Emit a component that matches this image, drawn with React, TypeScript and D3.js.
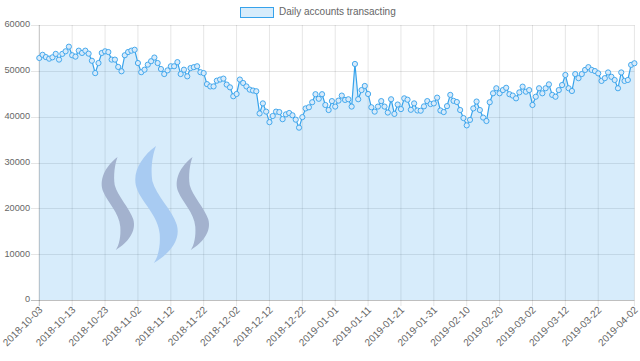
import React from "react";
import * as d3 from "d3";

const seriesName = "Daily accounts transacting";
const startDate = "2018-10-03";
const values: number[] = [
  52800, 53500, 53000, 52650, 52950, 53700, 52450, 53700, 54260, 55270,
  53400, 53100, 54400, 53900, 54400, 53750, 52200, 49500, 51700, 53900,
  54260, 54100, 52450, 52450, 50850, 49900, 53400, 54100, 54400, 54600,
  51700, 49700, 50250, 51350, 52100, 52900, 51700, 50400, 49300, 50100,
  51000, 51000, 51900, 49300, 50250, 48800, 50600, 50800, 51000, 49700,
  49500, 47100, 46600, 46600, 47850, 48100, 48300, 47000, 46400, 44450,
  44950, 48100, 47350, 46600, 45900, 45700, 45550, 40700, 42900, 41100,
  38800, 40150, 41100, 41000, 39450, 40500, 40800, 40300, 39350, 37600,
  39900, 41800, 42050, 43150, 44900, 43900, 44900, 42550, 41450, 43400,
  42200, 43500, 44600, 43650, 43800, 42200, 51500, 43800, 45800, 46700,
  44950, 42050, 41100, 42200, 43400, 42200, 40900, 43800, 40600, 42650,
  41650, 44000, 43700, 41500, 42900, 41350, 41300, 42250, 43400, 42750,
  42900, 44150, 41350, 41000, 42300, 44750, 43450, 43200, 41450, 39700,
  38100, 39300, 41800, 43300, 41450, 39800, 39050, 43150, 45100, 46200,
  45100, 45800, 46300, 44900, 44600, 44000, 45300, 46550, 45450, 45800,
  42550, 44350, 46200, 45100, 46200, 47050, 44750, 44350, 45800, 46900,
  49100, 46200, 45600, 49300, 48400, 49300, 50200, 50800, 50200, 49950,
  49450, 47800, 48400, 49650, 48700, 48000, 46200, 49650, 47800, 48000,
  51300, 51650,
];
const yTicks: number[] = [0, 10000, 20000, 30000, 40000, 50000, 60000];
const xTickIndices: number[] = [0, 10, 20, 30, 40, 50, 60, 70, 80, 90, 100, 110, 120, 130, 140, 150, 160, 170, 181];

const W = 640;
const H = 361;
const left = 39.3;
const right = 634.4;
const top = 25;
const bottom = 300;

const fmt = d3.utcFormat("%Y-%m-%d");
const start = d3.utcParse("%Y-%m-%d")(startDate) as Date;
const labelFor = (i: number) => fmt(d3.utcDay.offset(start, i));

const shapePath =
  "M0.5,0 C0.15,0.1 -0.05,0.25 0.1,0.38 C0.2,0.48 0.55,0.6 0.58,0.75 C0.6,0.85 0.55,0.95 0.45,1 C0.8,0.92 1.05,0.8 0.95,0.67 C0.85,0.55 0.5,0.42 0.42,0.3 C0.38,0.2 0.42,0.08 0.5,0 Z";

export default function App() {
  const x = d3.scaleLinear().domain([0, values.length - 1]).range([left, right]);
  const y = d3.scaleLinear().domain([0, 60000]).range([bottom, top]);
  const line = d3.line<number>().x((_, i) => x(i)).y((d) => y(d));
  const area = d3.area<number>().x((_, i) => x(i)).y0(bottom).y1((d) => y(d));
  const font = "'Liberation Sans', Arial, sans-serif";
  const logos = [
    { x: 100, y: 157, w: 35, h: 93, c: "#a3b2ce" },
    { x: 133, y: 146, w: 46, h: 117, c: "#a8cbf2" },
    { x: 175, y: 157, w: 35, h: 93, c: "#a3b2ce" },
  ];
  return (
    <svg width={W} height={H} style={{ position: "absolute", left: 0, top: 0, background: "#fff" }} fontFamily={font}>
      {/* legend */}
      <rect x={240.5} y={7.5} width={33} height={10} fill="rgba(54,162,235,0.2)" stroke="rgb(54,162,235)" strokeWidth={1} />
      <text x={279} y={12.5} fontSize={10} fill="#666" dominantBaseline="middle">{seriesName}</text>
      {/* horizontal grid */}
      {yTicks.map((t) => (
        <g key={t}>
          <line x1={31} x2={right} y1={Math.round(y(t)) + 0.5} y2={Math.round(y(t)) + 0.5} stroke={t === 0 ? "rgba(0,0,0,0.25)" : "rgba(0,0,0,0.1)"} />
          <text x={30} y={y(t)} fontSize={9.2} fill="#666" textAnchor="end" dominantBaseline="middle">{t}</text>
        </g>
      ))}
      {/* vertical grid */}
      {xTickIndices.map((i) => (
        <g key={i}>
          <line x1={x(i)} x2={x(i)} y1={top} y2={bottom + 6} stroke={i === 0 ? "rgba(0,0,0,0.25)" : "rgba(0,0,0,0.1)"} />
          <text transform={`translate(${x(i) + 1.5},${bottom + 8}) rotate(-45)`} fontSize={10} fill="#666" textAnchor="end" dominantBaseline="central">{labelFor(i)}</text>
        </g>
      ))}
      <path d={area(values) || ""} fill="rgba(54,162,235,0.2)" />
      {logos.map((l, k) => (
        <path key={k} d={shapePath} transform={`translate(${l.x},${l.y}) scale(${l.w},${l.h})`} fill={l.c} />
      ))}
      <path d={line(values) || ""} fill="none" stroke="rgb(54,162,235)" strokeWidth={1.2} />
      {values.map((v, i) => (
        <circle key={i} cx={x(i)} cy={y(v)} r={2.6} fill="rgba(215,234,250,1)" stroke="rgb(54,162,235)" strokeWidth={0.9} />
      ))}
    </svg>
  );
}
